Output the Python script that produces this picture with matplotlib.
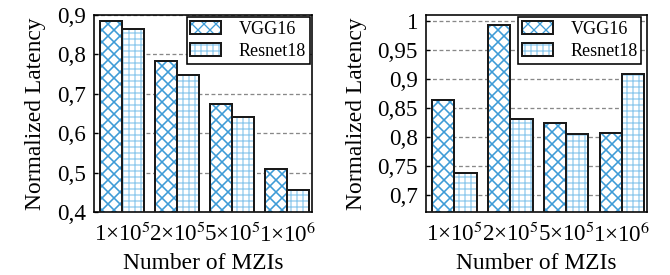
import matplotlib.pyplot as plt
from matplotlib.patches import Rectangle
from matplotlib.ticker import FuncFormatter, MultipleLocator

# hatch spacing in agg scales with dpi, so work at 72 dpi and size everything in px
plt.rcParams['font.family'] = ['Liberation Serif', 'DejaVu Serif']
plt.rcParams['mathtext.fontset'] = 'stix'

CATEGORIES = ['1×10$^5$', '2×10$^5$', '5×10$^5$', '1×10$^6$']
SERIES = ['VGG16', 'Resnet18']
LEFT_VGG16 = [0.884, 0.783, 0.673, 0.509]
LEFT_RESNET18 = [0.864, 0.748, 0.640, 0.455]
RIGHT_VGG16 = [0.864, 0.993, 0.823, 0.806]
RIGHT_RESNET18 = [0.738, 0.830, 0.805, 0.908]

COLORS = ['#3d9bd6', '#92cbee']
HATCHES = ['xx', '++']
HATCH_LW = [1.6, 1.3]
WIDTH = 0.4
DPI = 72

fig = plt.figure(figsize=(670 / DPI, 275 / DPI), dpi=DPI)
ax1 = fig.add_axes([94 / 670, 63 / 275, 218 / 670, 197 / 275])
ax2 = fig.add_axes([426 / 670, 63 / 275, 221 / 670, 197 / 275])

comma = FuncFormatter(lambda v, p: ('%g' % round(v, 3)).replace('.', ','))


def draw(ax, vgg, res, ylim, step, legend_anchor):
    pos = list(range(len(CATEGORIES)))
    handles = []
    for i, vals in enumerate((vgg, res)):
        plt.rcParams['hatch.linewidth'] = HATCH_LW[i]
        xs = [p - WIDTH / 2 + i * WIDTH for p in pos]
        ax.bar(xs, vals, width=WIDTH, color='white', edgecolor=COLORS[i],
               hatch=HATCHES[i], linewidth=0, zorder=2)
        ax.bar(xs, vals, width=WIDTH, fill=False, edgecolor='#1a1a1a',
               linewidth=2.0, zorder=3)
        fill = Rectangle((0, 0), 1, 1, facecolor='white', edgecolor=COLORS[i],
                         hatch=HATCHES[i], linewidth=0)
        edge = Rectangle((0, 0), 1, 1, fill=False, edgecolor='#1a1a1a',
                         linewidth=2.0)
        handles.append((fill, edge))
    ax.set_ylim(*ylim)
    ax.set_xlim(-0.51, 3.45)
    ax.yaxis.set_major_locator(MultipleLocator(step))
    ax.yaxis.set_major_formatter(comma)
    ax.set_xticks(pos)
    ax.set_xticklabels(CATEGORIES)
    ax.tick_params(axis='both', direction='in', labelsize=23, length=4, width=1.3)
    ax.tick_params(axis='y', pad=8)
    ax.tick_params(axis='x', length=0, pad=10)
    ax.yaxis.grid(True, linestyle=(0, (3, 2)), color='#888888', linewidth=1.3)
    ax.set_axisbelow(True)
    for s in ax.spines.values():
        s.set_linewidth(1.6)
    ax.set_ylabel('Normalized Latency', fontsize=23.5, labelpad=11)
    ax.set_xlabel('Number of MZIs', fontsize=23.5, labelpad=6)
    leg = ax.legend(handles, SERIES, loc='upper right', fontsize=18,
                    bbox_to_anchor=legend_anchor,
                    fancybox=False, edgecolor='black', framealpha=1,
                    borderaxespad=0, handlelength=1.7, handleheight=0.7,
                    borderpad=0.2, labelspacing=0.3, handletextpad=1.0)
    leg.get_frame().set_linewidth(1.6)


draw(ax1, LEFT_VGG16, LEFT_RESNET18, (0.4, 0.9), 0.1, (0.99, 0.99))
draw(ax2, RIGHT_VGG16, RIGHT_RESNET18, (0.67, 1.01), 0.05, (0.975, 0.99))

fig.savefig('out.png', dpi=DPI)
